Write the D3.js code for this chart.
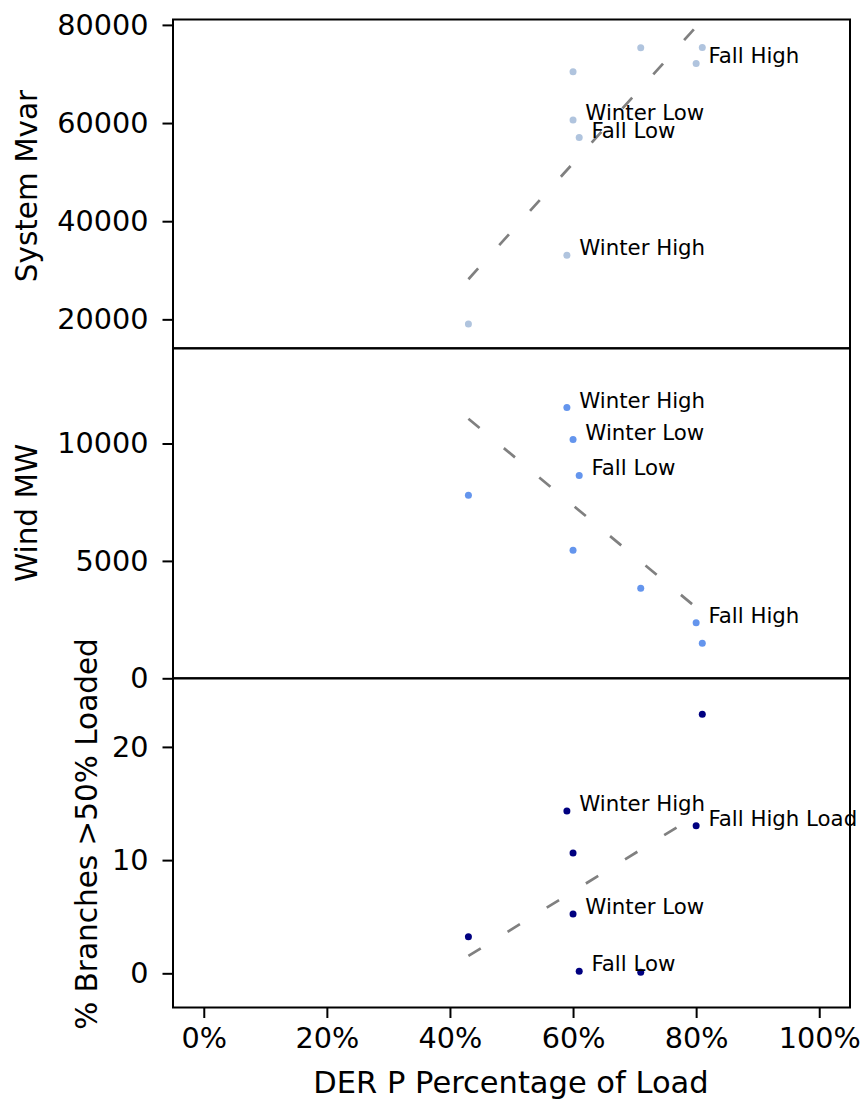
<!DOCTYPE html>
<html>
<head>
<meta charset="utf-8">
<script src="https://cdn.jsdelivr.net/npm/d3@7"></script>
<style>
  html, body { margin: 0; padding: 0; background: #fff; }
  svg { display: block; font-family: "DejaVu Sans", sans-serif; }
</style>
</head>
<body>
<svg id="chart" width="864" height="1099"></svg>
<script>
// ---- data ----
const derPct = [0.43, 0.59, 0.60, 0.60, 0.61, 0.71, 0.80, 0.81];
const systemMvar = [19040, 33060, 60640, 70450, 57040, 75330, 72140, 75390];
const windMW = [7800, 11530, 10170, 5450, 8640, 3840, 2370, 1490];
const branchesLoaded = [3.23, 14.33, 5.24, 10.62, 0.18, 0.09, 13.03, 22.89];
const labelsMvar = ["", "Winter High", "Winter Low", "", "Fall Low", "", "Fall High", ""];
const labelsWind = ["", "Winter High", "Winter Low", "", "Fall Low", "", "Fall High", ""];
const labelsBranches = ["", "Winter High", "Winter Low", "", "Fall Low", "", "Fall High Load", ""];
const xTicks = [0, 0.2, 0.4, 0.6, 0.8, 1.0];
const mvarTicks = [20000, 40000, 60000, 80000];
const windTicks = [0, 5000, 10000];
const branchTicks = [0, 10, 20];
const yTitles = ["System Mvar", "Wind MW", "% Branches >50% Loaded"];
const xTitle = "DER P Percentage of Load";
const colors = ["#b0c4de", "#6495ed", "#000080"];

// ---- layout ----
const svg = d3.select("#chart");
const left = 173, right = 850;
const x = d3.scaleLinear().domain([-0.05, 1.05]).range([left, right]);

const panels = [
  { vals: systemMvar, labels: labelsMvar, ticks: mvarTicks, domain: [14100, 81100], top: 19.5, bottom: 348.3, titleX: 37, titleY: 186 },
  { vals: windMW, labels: labelsWind, ticks: windTicks, domain: [0, 14055], top: 348.3, bottom: 678.3, titleX: 37, titleY: 513 },
  { vals: branchesLoaded, labels: labelsBranches, ticks: branchTicks, domain: [-3.02, 26.06], top: 678.3, bottom: 1007.5, titleX: 97, titleY: 834 }
];

function linreg(xs, ys) {
  const mx = d3.mean(xs), my = d3.mean(ys);
  let sxy = 0, sxx = 0;
  xs.forEach((v, i) => { sxy += (v - mx) * (ys[i] - my); sxx += (v - mx) * (v - mx); });
  const b = sxy / sxx;
  return xv => my + b * (xv - mx);
}

const defs = svg.append("defs");

panels.forEach((p, pi) => {
  const y = d3.scaleLinear().domain(p.domain).range([p.bottom, p.top]);
  const g = svg.append("g");

  defs.append("clipPath").attr("id", "clip" + pi)
    .append("rect").attr("x", left).attr("y", p.top)
    .attr("width", right - left).attr("height", p.bottom - p.top);

  // regression line
  const f = linreg(derPct, p.vals);
  const xr = d3.extent(derPct);
  const lineData = [xr[0], xr[1]].map(v => [v, f(v)]);
  g.append("path")
    .attr("clip-path", "url(#clip" + pi + ")")
    .attr("d", d3.line().x(d => x(d[0])).y(d => y(d[1]))(lineData))
    .attr("fill", "none").attr("stroke", "#808080")
    .attr("stroke-width", 2.7).attr("stroke-dasharray", "14.5,31.5");

  // points
  g.selectAll("circle.pt").data(derPct).enter().append("circle")
    .attr("class", "pt")
    .attr("cx", d => x(d)).attr("cy", (d, i) => y(p.vals[i]))
    .attr("r", 3.5).attr("fill", colors[pi]);

  // labels
  g.selectAll("text.lbl").data(derPct.map((d, i) => ({ d, v: p.vals[i], l: p.labels[i] })).filter(o => o.l))
    .enter().append("text").attr("class", "lbl")
    .attr("x", o => x(o.d + 0.02)).attr("y", o => y(o.v))
    .attr("font-size", 21.3).attr("fill", "#000").text(o => o.l);

  // y axis
  const ax = d3.axisLeft(y).tickValues(p.ticks).tickSize(10.5).tickPadding(14).tickFormat(d3.format("d"));
  const ag = svg.append("g").attr("transform", `translate(${left},0)`).call(ax);
  ag.select(".domain").remove();
  ag.selectAll(".tick line").attr("stroke", "#000").attr("stroke-width", 2);
  ag.selectAll(".tick text").attr("font-size", 28.7).attr("font-family", "DejaVu Sans").attr("fill", "#000");

  // frame
  svg.append("rect").attr("x", left).attr("y", p.top)
    .attr("width", right - left).attr("height", p.bottom - p.top)
    .attr("fill", "none").attr("stroke", "#000").attr("stroke-width", 2);

  // y title
  svg.append("text")
    .attr("transform", `translate(${p.titleX},${p.titleY}) rotate(-90)`)
    .attr("text-anchor", "middle").attr("font-size", 29.5).attr("fill", "#000")
    .text(yTitles[pi]);
});

// x axis
const xAxis = d3.axisBottom(x).tickValues(xTicks).tickSize(10.5).tickPadding(10).tickFormat(d3.format(".0%"));
const xg = svg.append("g").attr("transform", "translate(0,1007.5)").call(xAxis);
xg.select(".domain").remove();
xg.selectAll(".tick line").attr("stroke", "#000").attr("stroke-width", 2);
xg.selectAll(".tick text").attr("font-size", 28.7).attr("font-family", "DejaVu Sans").attr("fill", "#000");

svg.append("text").attr("x", 511).attr("y", 1093)
  .attr("text-anchor", "middle").attr("font-size", 30.5).attr("fill", "#000")
  .text(xTitle);
</script>
</body>
</html>
